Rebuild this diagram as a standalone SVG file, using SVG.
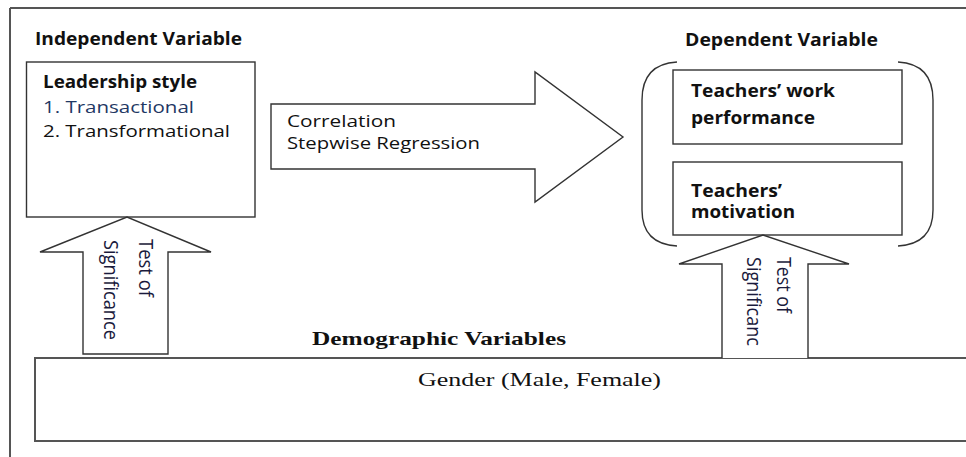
<svg xmlns="http://www.w3.org/2000/svg" width="966" height="457" viewBox="0 0 966 457">
<style>
.ln{fill:none;stroke:#333;stroke-width:1.4}
.sh{fill:#fff;stroke:#333;stroke-width:1.4;stroke-linejoin:miter}
.fr{fill:none;stroke:#555;stroke-width:2}
.s{font-family:"Open Sans","DejaVu Sans",sans-serif;font-size:17px;fill:#111}
.b{font-weight:bold}
.v{font-family:"Open Sans","DejaVu Sans",sans-serif;font-size:15px;fill:#1a1a3c}
.sf{font-family:"Liberation Serif","Times New Roman",serif;fill:#111}
</style>
<rect width="966" height="457" fill="#fff"/>
<g id="frame">
<path class="fr" d="M10,8 L966,8 M10,8 L10,457"/>
</g>
<g id="independent">
<text class="s b" x="35" y="45" textLength="207" lengthAdjust="spacingAndGlyphs">Independent Variable</text>
<rect class="sh" x="26.5" y="62" width="228.5" height="155"/>
<text class="s b" x="43" y="88" textLength="154" lengthAdjust="spacingAndGlyphs">Leadership style</text>
<text class="s" x="43" y="113" textLength="151" lengthAdjust="spacingAndGlyphs" style="fill:#1f3864">1. Transactional</text>
<text class="s" x="43" y="137" textLength="187" lengthAdjust="spacingAndGlyphs">2. Transformational</text>
</g>
<g id="dependent">
<text class="s b" x="685" y="46" textLength="193" lengthAdjust="spacingAndGlyphs">Dependent Variable</text>
<path class="ln" d="M677,62 Q642,64 642,100 L642,210 Q642,244 677,246 M898,62 Q933,64 933,100 L933,210 Q933,244 898,246"/>
</g>
<g id="work-performance">
<rect class="sh" x="673" y="70" width="229" height="74"/>
<text class="s b" x="691" y="97" textLength="144" lengthAdjust="spacingAndGlyphs">Teachers’ work</text>
<text class="s b" x="691" y="124" textLength="124" lengthAdjust="spacingAndGlyphs">performance</text>
</g>
<g id="motivation">
<rect class="sh" x="673" y="162" width="229" height="73"/>
<text class="s b" x="691" y="197" textLength="91" lengthAdjust="spacingAndGlyphs">Teachers’</text>
<text class="s b" x="691" y="218" textLength="104" lengthAdjust="spacingAndGlyphs">motivation</text>
</g>
<g id="demographic">
<text class="sf" x="312" y="345" font-size="19.5" font-weight="bold" textLength="254" lengthAdjust="spacingAndGlyphs">Demographic Variables</text>
<rect class="fr" x="35" y="358" width="940" height="83"/>
<text class="sf" x="418" y="386" font-size="18.5" textLength="243" lengthAdjust="spacingAndGlyphs">Gender (Male, Female)</text>
</g>
<g id="connectors">
<g id="correlation-arrow">
<path class="sh" d="M271,104 L535,104 L535,72 L623,137 L535,202 L535,169 L271,169 Z"/>
<text class="s" x="287" y="127" textLength="109" lengthAdjust="spacingAndGlyphs">Correlation</text>
<text class="s" x="287" y="149" textLength="193" lengthAdjust="spacingAndGlyphs">Stepwise Regression</text>
</g>
<g id="sig-arrow-left">
<path class="sh" d="M83,354 L83,252 L40,252 L127,217 L211,252 L168,252 L168,354 Z"/>
<text class="v" transform="translate(139,239) scale(1.3,1) rotate(90)" textLength="58" lengthAdjust="spacingAndGlyphs">Test of</text>
<text class="v" transform="translate(104,240) scale(1.3,1) rotate(90)" textLength="100" lengthAdjust="spacingAndGlyphs">Significance</text>
</g>
<g id="sig-arrow-right">
<path class="sh" d="M722,358 L722,264 L679,264 L763,235 L849,264 L808,264 L808,358"/>
<text class="v" transform="translate(777,257) scale(1.3,1) rotate(90)" textLength="56" lengthAdjust="spacingAndGlyphs">Test of</text>
<text class="v" transform="translate(747,257) scale(1.3,1) rotate(90)" textLength="89" lengthAdjust="spacingAndGlyphs">Significanc</text>
</g>
</g>
</svg>
